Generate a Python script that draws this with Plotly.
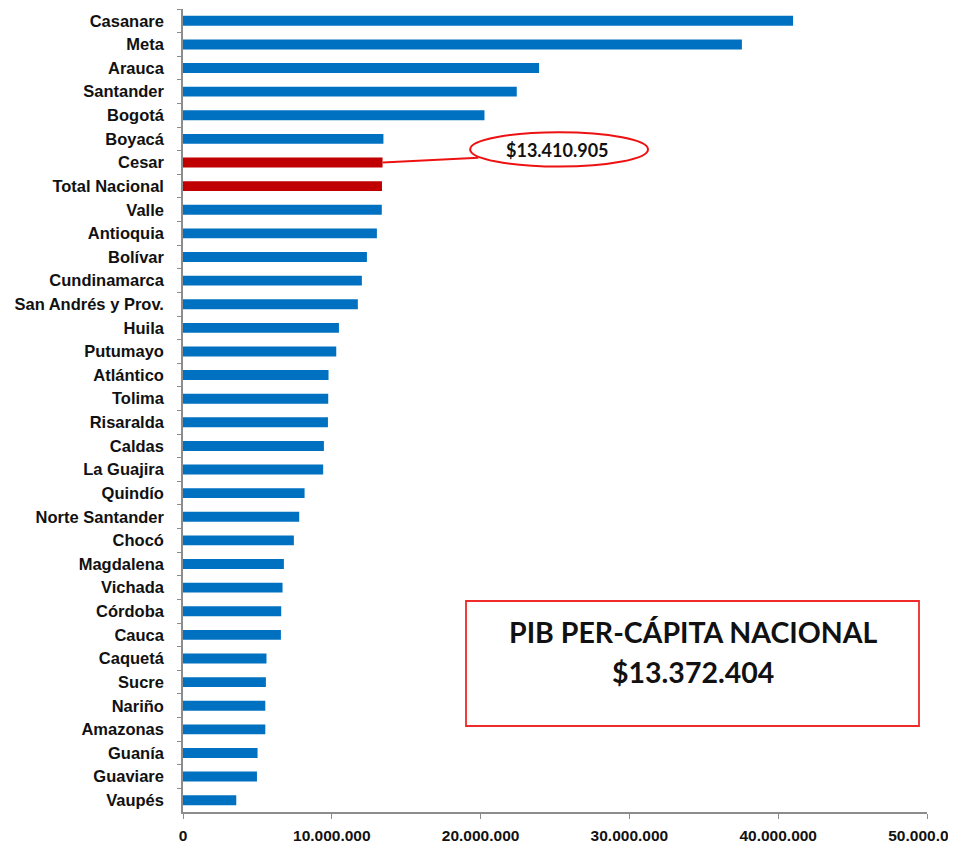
import plotly.graph_objects as go

categories = ["Casanare", "Meta", "Arauca", "Santander", "Bogotá", "Boyacá", "Cesar",
              "Total Nacional", "Valle", "Antioquia", "Bolívar", "Cundinamarca",
              "San Andrés y Prov.", "Huila", "Putumayo", "Atlántico", "Tolima", "Risaralda",
              "Caldas", "La Guajira", "Quindío", "Norte Santander", "Chocó", "Magdalena",
              "Vichada", "Córdoba", "Cauca", "Caquetá", "Sucre", "Nariño", "Amazonas",
              "Guanía", "Guaviare", "Vaupés"]
pib_per_capita = [41000000, 37560000, 23930000, 22430000, 20260000, 13470000, 13410905,
                  13372404, 13360000, 13030000, 12360000, 12020000,
                  11750000, 10480000, 10300000, 9780000, 9760000, 9740000,
                  9470000, 9420000, 8170000, 7810000, 7450000, 6780000,
                  6690000, 6600000, 6580000, 5610000, 5570000, 5530000, 5530000,
                  5010000, 4970000, 3580000]
x_ticks = [0, 10000000, 20000000, 30000000, 40000000, 50000000]
highlighted = ["Cesar", "Total Nacional"]

BLUE = "#0070C0"
RED = "#C00000"
colors = [RED if c in highlighted else BLUE for c in categories]


def fmt(v):
    return "$" + f"{v:,}".replace(",", ".")


cesar_val = pib_per_capita[categories.index("Cesar")]
total_val = pib_per_capita[categories.index("Total Nacional")]

fig = go.Figure(go.Bar(
    x=pib_per_capita, y=categories, orientation="h",
    marker=dict(color=colors, line=dict(width=0)),
    width=0.42,
))

axis_font = dict(family="Liberation Sans, Arial", size=16.5, color="#111111", weight="bold")
x_font = dict(family="Liberation Sans, Arial", size=15.5, color="#111111", weight="bold")

# page body has an 8px margin: figure is 948x838 placed at (8, 8)
fig.update_layout(
    width=948, height=838,
    margin=dict(l=175, r=29, t=1, b=34),
    plot_bgcolor="white", paper_bgcolor="white",
    separators=",.",
    showlegend=False,
    xaxis=dict(range=[0, 50000000], tickvals=x_ticks, tickformat=",d",
               showgrid=False, zeroline=False, showline=True, linecolor="#8c8c8c",
               linewidth=1.5, ticks="outside", ticklen=5, tickcolor="#8c8c8c",
               tickfont=x_font, ticklabelstandoff=4, ticklabeloverflow="allow",
               automargin=False),
    yaxis=dict(autorange="reversed", showgrid=False, zeroline=False, showline=True,
               linecolor="#8c8c8c", linewidth=1.5, ticks="outside", ticklen=4,
               tickcolor="#8c8c8c", tickson="boundaries", tickfont=axis_font,
               ticklabelstandoff=14, automargin=False),
)

# ellipse callout for Cesar
fig.add_shape(type="circle", xref="x", yref="y",
              x0=19300000, x1=31250000, y0=4.72, y1=6.17,
              line=dict(color="#EE1111", width=2))
fig.add_shape(type="line", xref="x", yref="y",
              x0=cesar_val, y0="Cesar", x1=19850000, y1=5.8,
              line=dict(color="#EE1111", width=2))
fig.add_annotation(x=25150000, y=5.45, xref="x", yref="y", text="<b>" + fmt(cesar_val) + "</b>",
                   showarrow=False, xanchor="center", yanchor="middle",
                   font=dict(family="Lato, Carlito, sans-serif", size=18, color="#111111"))

# national box
fig.add_shape(type="rect", xref="paper", yref="paper",
              x0=(466 - 183) / 744, x1=(919 - 183) / 744,
              y0=(812 - 726) / 803, y1=(812 - 601) / 803,
              line=dict(color="#EE2A2A", width=1.8))
box_font = dict(family="Lato, Carlito, sans-serif", size=28.5, color="#111111")
fig.add_annotation(xref="paper", yref="paper", x=(693 - 183) / 744, y=(812 - 632) / 803,
                   xanchor="center", yanchor="middle",
                   text="<b>PIB PER-CÁPITA NACIONAL</b>",
                   showarrow=False, font=box_font)
fig.add_annotation(xref="paper", yref="paper", x=(693 - 183) / 744, y=(812 - 672) / 803,
                   xanchor="center", yanchor="middle",
                   text="<b>" + fmt(total_val) + "</b>",
                   showarrow=False, font=box_font)

fig.write_html("out.html")
